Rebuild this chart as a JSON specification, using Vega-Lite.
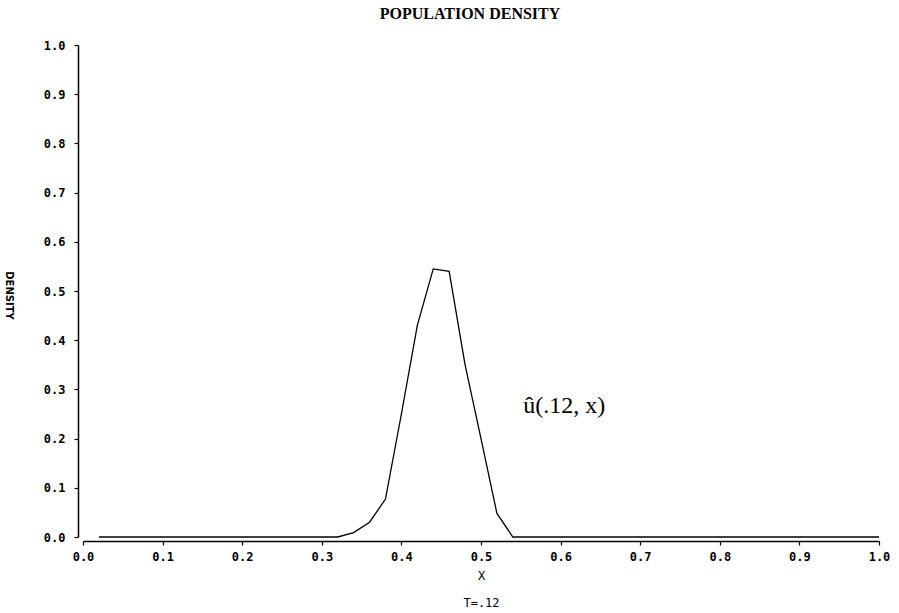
{
  "$schema": "https://vega.github.io/schema/vega-lite/v6.json",
  "width": 796,
  "height": 492,
  "autosize": {"type": "none"},
  "padding": {"left": 83, "top": 45, "right": 20, "bottom": 76},
  "background": "white",
  "config": {"view": {"stroke": null}},
  "title": {
    "text": "POPULATION DENSITY",
    "font": "Liberation Serif",
    "fontSize": 16,
    "fontWeight": "bold",
    "color": "black",
    "offset": 17,
    "dx": -11,
    "anchor": "middle"
  },
  "layer": [
    {
      "data": {
        "values": [
          {"x": 0.02, "u": 0}, {"x": 0.04, "u": 0}, {"x": 0.06, "u": 0}, {"x": 0.08, "u": 0},
          {"x": 0.10, "u": 0}, {"x": 0.12, "u": 0}, {"x": 0.14, "u": 0}, {"x": 0.16, "u": 0},
          {"x": 0.18, "u": 0}, {"x": 0.20, "u": 0}, {"x": 0.22, "u": 0}, {"x": 0.24, "u": 0},
          {"x": 0.26, "u": 0}, {"x": 0.28, "u": 0}, {"x": 0.30, "u": 0}, {"x": 0.32, "u": 0},
          {"x": 0.34, "u": 0.009}, {"x": 0.36, "u": 0.030}, {"x": 0.38, "u": 0.077},
          {"x": 0.40, "u": 0.25}, {"x": 0.42, "u": 0.43}, {"x": 0.44, "u": 0.545},
          {"x": 0.46, "u": 0.540}, {"x": 0.48, "u": 0.35}, {"x": 0.50, "u": 0.20},
          {"x": 0.52, "u": 0.048}, {"x": 0.54, "u": 0}, {"x": 0.56, "u": 0},
          {"x": 0.58, "u": 0}, {"x": 0.60, "u": 0}, {"x": 0.62, "u": 0}, {"x": 0.64, "u": 0},
          {"x": 0.66, "u": 0}, {"x": 0.68, "u": 0}, {"x": 0.70, "u": 0}, {"x": 0.72, "u": 0},
          {"x": 0.74, "u": 0}, {"x": 0.76, "u": 0}, {"x": 0.78, "u": 0}, {"x": 0.80, "u": 0},
          {"x": 0.82, "u": 0}, {"x": 0.84, "u": 0}, {"x": 0.86, "u": 0}, {"x": 0.88, "u": 0},
          {"x": 0.90, "u": 0}, {"x": 0.92, "u": 0}, {"x": 0.94, "u": 0}, {"x": 0.96, "u": 0},
          {"x": 0.98, "u": 0}, {"x": 1.00, "u": 0}
        ]
      },
      "mark": {"type": "line", "color": "black", "strokeWidth": 1.3},
      "encoding": {
        "x": {
          "field": "x",
          "type": "quantitative",
          "scale": {"domain": [0, 1]},
          "axis": {
            "values": [0, 0.05, 0.1, 0.15, 0.2, 0.25, 0.3, 0.35, 0.4, 0.45, 0.5, 0.55, 0.6, 0.65, 0.7, 0.75, 0.8, 0.85, 0.9, 0.95, 1.0],
            "labelExpr": "round(datum.value*20) % 2 == 1 ? '' : format(datum.value, '.1f')",
            "tickSize": {"condition": {"test": "round(datum.value*20) % 2 == 1", "value": 3}, "value": 4},
            "offset": 4,
            "grid": false,
            "domainColor": "black",
            "domainWidth": 1.5,
            "tickColor": "black",
            "tickWidth": 1.2,
            "labelFont": "DejaVu Sans Mono",
            "labelFontSize": 12,
            "labelFontWeight": "bold",
            "labelColor": "black",
            "labelPadding": 6,
            "labelFlush": false,
            "labelOverlap": false,
            "title": ["X", "T=.12"],
            "titleFont": "DejaVu Sans Mono",
            "titleFontSize": 12,
            "titleFontWeight": "normal",
            "titleColor": "black",
            "titleLineHeight": 27,
            "titlePadding": 8
          }
        },
        "y": {
          "field": "u",
          "type": "quantitative",
          "scale": {"domain": [0, 1]},
          "axis": {
            "values": [0, 0.05, 0.1, 0.15, 0.2, 0.25, 0.3, 0.35, 0.4, 0.45, 0.5, 0.55, 0.6, 0.65, 0.7, 0.75, 0.8, 0.85, 0.9, 0.95, 1.0],
            "labelExpr": "round(datum.value*20) % 2 == 1 ? '' : format(datum.value, '.1f')",
            "tickSize": {"condition": {"test": "round(datum.value*20) % 2 == 1", "value": 3}, "value": 4},
            "offset": 5,
            "grid": false,
            "domainColor": "black",
            "domainWidth": 1.5,
            "tickColor": "black",
            "tickWidth": 1.2,
            "labelFont": "DejaVu Sans Mono",
            "labelFontSize": 12,
            "labelFontWeight": "bold",
            "labelColor": "black",
            "labelPadding": 9,
            "labelOverlap": false,
            "title": "DENSITY",
            "titleFont": "DejaVu Sans",
            "titleFontSize": 10,
            "titleFontWeight": "bold",
            "titleColor": "black",
            "titleAngle": 90,
            "titleAlign": "center",
            "titleBaseline": "middle",
            "titleX": -70,
            "titleY": 250
          }
        }
      }
    },
    {
      "data": {"values": [{"x": 0.553, "u": 0.252, "label": "û(.12, x)"}]},
      "mark": {"type": "text", "font": "Liberation Serif", "fontSize": 24, "align": "left", "baseline": "alphabetic", "color": "black"},
      "encoding": {
        "x": {"field": "x", "type": "quantitative"},
        "y": {"field": "u", "type": "quantitative"},
        "text": {"field": "label"}
      }
    }
  ]
}
